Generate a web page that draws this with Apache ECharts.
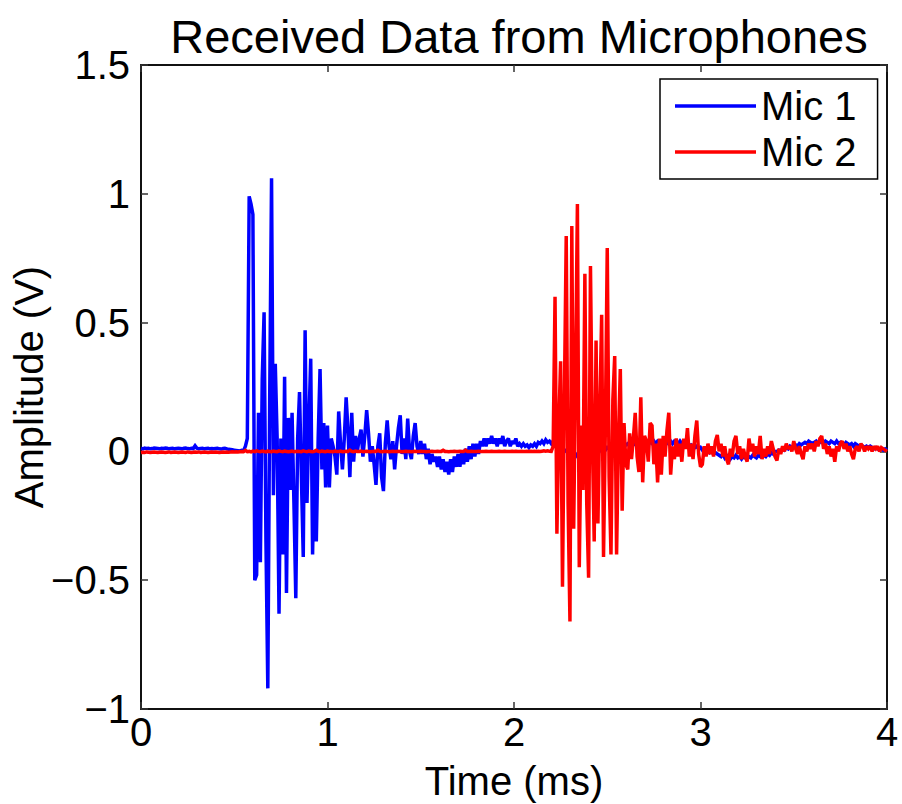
<!DOCTYPE html>
<html>
<head>
<meta charset="utf-8">
<title>Received Data from Microphones</title>
<script src="https://cdn.jsdelivr.net/npm/echarts@6/dist/echarts.min.js"></script>
<style>
  html, body { margin: 0; padding: 0; background: #fff; }
  #chart { width: 902px; height: 804px; }
</style>
</head>
<body>
<div id="chart"></div>
<script>
// Sampling interval of both microphone recordings, in milliseconds.
const SAMPLE_STEP_MS = 0.01;

const SERIES_NAMES = ['Mic 1', 'Mic 2'];
const X_TICKS = [0, 1, 2, 3, 4];
const Y_TICKS = [-1, -0.5, 0, 0.5, 1, 1.5];

// Mic 1 voltage, one value per sample (10 samples per row).
const MIC1_VOLTS = [
  0.012, 0.010, 0.013, 0.011, 0.012, 0.010, 0.011, 0.013, 0.012, 0.011,
  0.010, 0.012, 0.011, 0.013, 0.012, 0.010, 0.011, 0.012, 0.010, 0.011,
  0.012, 0.011, 0.010, 0.012, 0.013, 0.011, 0.010, 0.012, 0.011, 0.022,
  0.012, 0.010, 0.011, 0.012, 0.010, 0.011, 0.012, 0.010, 0.011, 0.010,
  0.011, 0.012, 0.010, 0.009, 0.011, 0.012, 0.010, 0.008, 0.007, 0.006,
  0.005, 0.004, 0.003, 0.002, 0.004, 0.003, 0.020, 0.050, 0.990, 0.960,
  0.920, -0.500, -0.480, 0.150, -0.430, 0.280, 0.540, -0.350, -0.920, 0.200,
  1.060, -0.170, 0.340, 0.050, -0.630, 0.050, -0.400, 0.290, -0.550, 0.130,
  -0.150, 0.150, -0.200, -0.570, 0.050, 0.230, -0.100, -0.410, 0.470, -0.200,
  0.100, 0.360, -0.400, 0.000, -0.350, 0.050, 0.320, -0.070, 0.110, -0.140,
  0.100, -0.140, 0.050, 0.020, -0.020, -0.090, 0.155, 0.030, -0.070, 0.050,
  0.210, 0.080, -0.100, 0.150, -0.040, 0.060, 0.000, 0.050, 0.085, -0.020,
  0.060, 0.160, 0.070, -0.040, 0.020, -0.050, -0.130, 0.020, 0.070, -0.100,
  -0.154, 0.030, 0.120, 0.020, -0.030, 0.040, -0.070, 0.020, 0.090, 0.140,
  -0.010, 0.050, -0.030, 0.127, 0.000, -0.030, 0.060, 0.110, 0.020, -0.010,
  0.040, -0.010, 0.030, -0.030, 0.010, -0.050, -0.010, -0.040, -0.020, -0.060,
  -0.020, -0.070, -0.030, -0.080, -0.040, -0.090, -0.030, -0.080, -0.020, -0.060,
  -0.010, -0.060, 0.000, -0.050, 0.010, -0.040, 0.020, -0.030, 0.030, -0.020,
  0.030, -0.010, 0.040, 0.020, 0.050, 0.020, 0.050, 0.030, 0.060, 0.030,
  0.050, 0.020, 0.050, 0.030, 0.060, 0.020, 0.040, 0.050, 0.020, 0.040,
  0.030, 0.050, 0.020, 0.030, 0.020, 0.030, 0.020, 0.025, 0.015, 0.025,
  0.020, 0.030, 0.020, 0.035, 0.030, 0.040, 0.030, 0.045, 0.035, 0.040,
  0.030, 0.040, 0.030, 0.025, 0.020, 0.010, 0.015, 0.000, 0.005, -0.010,
  0.000, -0.015, -0.005, -0.020, -0.010, -0.015, -0.020, -0.010, -0.015, -0.005,
  -0.010, -0.005, 0.000, -0.010, 0.005, 0.000, 0.010, 0.000, 0.010, 0.005,
  0.015, 0.010, 0.020, 0.010, 0.020, 0.015, 0.025, 0.020, 0.030, 0.020,
  0.025, 0.030, 0.020, 0.035, 0.025, 0.030, 0.040, 0.030, 0.035, 0.025,
  0.040, 0.030, 0.040, 0.035, 0.030, 0.040, 0.030, 0.040, 0.035, 0.040,
  0.030, 0.040, 0.030, 0.035, 0.040, 0.030, 0.040, 0.035, 0.030, 0.040,
  0.030, 0.035, 0.025, 0.030, 0.020, 0.025, 0.020, 0.015, 0.020, 0.010,
  0.015, 0.005, 0.010, 0.000, 0.005, -0.005, 0.000, -0.010, -0.005, -0.010,
  -0.015, -0.020, -0.010, -0.025, -0.015, -0.020, -0.030, -0.020, -0.025, -0.015,
  -0.025, -0.020, -0.030, -0.020, -0.025, -0.030, -0.020, -0.025, -0.015, -0.020,
  -0.025, -0.015, -0.020, -0.010, -0.015, -0.020, -0.010, -0.015, -0.005, -0.010,
  0.000, 0.000, 0.005, 0.000, 0.010, 0.005, 0.015, 0.010, 0.020, 0.015,
  0.020, 0.025, 0.020, 0.030, 0.025, 0.030, 0.035, 0.030, 0.040, 0.035,
  0.030, 0.035, 0.040, 0.030, 0.035, 0.040, 0.030, 0.040, 0.035, 0.030,
  0.040, 0.035, 0.030, 0.040, 0.030, 0.035, 0.030, 0.025, 0.035, 0.030,
  0.025, 0.030, 0.020, 0.030, 0.025, 0.020, 0.025, 0.020, 0.015, 0.020,
  0.015, 0.020, 0.015, 0.010, 0.015, 0.010, 0.005, 0.010, 0.005, 0.010,
  0.005
];

// Mic 2 voltage, one value per sample (10 samples per row).
const MIC2_VOLTS = [
  -0.004, -0.003, -0.004, -0.002, -0.003, -0.004, -0.003, -0.002, -0.003, -0.004,
  -0.003, -0.002, -0.003, -0.004, -0.003, -0.002, -0.004, -0.003, -0.002, -0.003,
  -0.004, -0.003, -0.002, -0.003, -0.004, -0.002, -0.003, -0.004, -0.003, -0.002,
  -0.003, -0.002, -0.004, -0.003, -0.002, -0.003, -0.004, -0.003, -0.002, -0.003,
  -0.002, -0.003, -0.004, -0.003, -0.002, -0.003, -0.002, -0.003, -0.002, -0.001,
  -0.002, -0.001, -0.002, -0.001, 0.000, -0.001, 0.004, -0.001, 0.000, -0.002,
  0.001, -0.001, 0.002, 0.000, -0.001, 0.001, 0.000, -0.002, 0.001, 0.000,
  -0.001, 0.001, 0.000, -0.001, 0.002, 0.000, -0.001, 0.001, 0.000, -0.001,
  0.000, 0.001, -0.001, 0.000, 0.001, 0.000, -0.001, 0.002, 0.000, -0.001,
  0.001, 0.000, -0.001, 0.000, 0.004, 0.000, -0.001, 0.001, 0.000, -0.001,
  0.001, 0.000, 0.000, -0.001, 0.001, 0.000, 0.000, 0.001, -0.001, 0.000,
  0.001, 0.000, 0.005, 0.000, -0.001, 0.001, 0.000, 0.000, 0.001, -0.001,
  0.000, 0.001, 0.000, -0.001, 0.000, 0.001, 0.000, 0.004, 0.000, -0.001,
  0.000, 0.001, 0.000, -0.001, 0.000, 0.001, 0.000, 0.000, 0.001, 0.000,
  -0.001, 0.000, 0.001, 0.000, 0.000, -0.001, 0.000, 0.001, 0.000, 0.000,
  0.001, 0.000, 0.000, -0.001, 0.000, 0.000, 0.001, 0.000, 0.000, 0.001,
  0.000, 0.000, 0.004, 0.000, 0.000, -0.001, 0.000, 0.000, 0.001, 0.000,
  0.000, 0.001, 0.000, 0.000, 0.005, 0.000, 0.000, 0.001, 0.000, 0.000,
  0.000, 0.001, 0.000, 0.000, 0.000, 0.001, 0.000, 0.000, 0.001, 0.000,
  0.000, 0.000, 0.001, 0.000, 0.000, 0.001, 0.000, 0.000, 0.000, 0.001,
  0.000, 0.001, 0.000, 0.000, 0.001, 0.000, 0.000, 0.001, 0.000, 0.001,
  0.000, 0.001, 0.000, 0.001, 0.000, 0.001, 0.002, 0.001, 0.002, 0.001,
  0.000, 0.020, 0.600, -0.320, 0.100, 0.350, -0.525, 0.200, 0.836, -0.200,
  -0.660, 0.875, -0.300, 0.300, 0.960, -0.450, 0.100, -0.150, 0.690, -0.200,
  -0.490, 0.720, 0.050, -0.350, 0.430, -0.280, 0.150, 0.530, -0.410, 0.100,
  0.790, -0.100, -0.400, 0.200, 0.370, -0.400, 0.050, 0.320, -0.230, 0.110,
  -0.050, -0.070, 0.070, -0.030, 0.050, 0.150, -0.020, -0.080, 0.210, -0.120,
  0.060, 0.040, -0.040, 0.110, 0.100, -0.050, 0.030, -0.120, 0.050, -0.090,
  0.060, -0.020, 0.080, 0.150, -0.090, 0.020, -0.030, 0.050, -0.020, 0.030,
  -0.040, 0.050, 0.010, 0.090, -0.020, 0.030, -0.030, 0.060, 0.120, -0.010,
  -0.060, -0.050, 0.020, -0.020, 0.030, -0.010, 0.020, -0.020, 0.040, 0.064,
  0.000, 0.030, -0.020, 0.020, -0.030, -0.050, 0.010, -0.020, 0.040, 0.060,
  -0.010, 0.020, -0.030, 0.010, -0.020, -0.040, 0.050, 0.000, 0.030, -0.020,
  0.020, -0.010, 0.060, -0.030, 0.010, -0.020, 0.020, -0.010, 0.040, 0.010,
  -0.020, -0.035, 0.010, -0.010, 0.020, 0.000, 0.030, 0.010, 0.020, 0.000,
  0.040, 0.010, -0.010, 0.020, -0.010, -0.030, 0.020, 0.000, 0.030, 0.010,
  0.030, 0.000, 0.040, 0.020, 0.050, 0.060, 0.010, 0.030, -0.010, 0.020,
  -0.020, 0.010, -0.040, 0.020, 0.000, 0.030, 0.040, 0.010, 0.030, 0.000,
  0.020, -0.010, -0.030, 0.010, 0.020, 0.000, 0.030, 0.020, 0.000, 0.020,
  0.010, 0.020, 0.000, 0.020, 0.010, 0.020, 0.000, 0.015, 0.010, 0.005,
  0.000
];

const FONT = "'Liberation Sans', Arial, Helvetica, sans-serif";

// Pair every voltage sample with its time stamp (ms).
function toPoints(volts) {
  return volts.map((v, i) => [i * SAMPLE_STEP_MS, v]);
}

function tickLabel(v) {
  return String(v).replace('-', '\u2212');
}

const chart = echarts.init(document.getElementById('chart'), null, { renderer: 'svg' });

const axisLine = { show: true, onZero: false, lineStyle: { color: '#111', width: 2 } };
const axisTickIn = { show: true, inside: true, length: 7, lineStyle: { color: '#333', width: 1.5 } };

chart.setOption({
  animation: false,
  backgroundColor: '#ffffff',
  title: {
    text: 'Received Data from Microphones',
    left: 514,
    top: 8,
    textAlign: 'center',
    textStyle: { fontFamily: FONT, fontSize: 47, fontWeight: 'normal', color: '#000' }
  },
  legend: {
    data: SERIES_NAMES,
    orient: 'vertical',
    left: 660,
    top: 79,
    icon: 'rect',
    itemWidth: 81,
    itemHeight: 3.5,
    itemGap: 6,
    itemTextGap: 11,
    padding: [7, 21, 7, 15],
    backgroundColor: '#ffffff',
    borderColor: '#000',
    borderWidth: 1.5,
    textStyle: { fontFamily: FONT, fontSize: 40, lineHeight: 40, color: '#000' }
  },
  grid: { left: 141, right: 15, top: 65, bottom: 95, containLabel: false, outerBoundsMode: 'none' },
  xAxis: [
    {
      type: 'value',
      min: X_TICKS[0],
      max: X_TICKS[X_TICKS.length - 1],
      interval: 1,
      name: 'Time (ms)',
      nameLocation: 'middle',
      nameGap: 52,
      nameMoveOverlap: false,
      nameTextStyle: { fontFamily: FONT, fontSize: 40, color: '#000' },
      axisLine: axisLine,
      axisTick: axisTickIn,
      splitLine: { show: false },
      axisLabel: {
        margin: 5,
        fontFamily: FONT,
        fontSize: 40,
        lineHeight: 36,
        color: '#000',
        formatter: tickLabel
      }
    },
    {
      type: 'value',
      position: 'top',
      min: X_TICKS[0],
      max: X_TICKS[X_TICKS.length - 1],
      interval: 1,
      axisLine: axisLine,
      axisTick: axisTickIn,
      axisLabel: { show: false },
      splitLine: { show: false }
    }
  ],
  yAxis: [
    {
      type: 'value',
      min: Y_TICKS[0],
      max: Y_TICKS[Y_TICKS.length - 1],
      interval: 0.5,
      name: 'Amplitude (V)',
      nameLocation: 'middle',
      nameGap: 92,
      nameMoveOverlap: false,
      nameTextStyle: { fontFamily: FONT, fontSize: 40, lineHeight: 40, color: '#000' },
      axisLine: axisLine,
      axisTick: axisTickIn,
      splitLine: { show: false },
      axisLabel: {
        margin: 11,
        fontFamily: FONT,
        fontSize: 40,
        lineHeight: 32,
        color: '#000',
        formatter: tickLabel
      }
    },
    {
      type: 'value',
      position: 'right',
      min: Y_TICKS[0],
      max: Y_TICKS[Y_TICKS.length - 1],
      interval: 0.5,
      axisLine: axisLine,
      axisTick: axisTickIn,
      axisLabel: { show: false },
      splitLine: { show: false }
    }
  ],
  series: [
    {
      name: SERIES_NAMES[0],
      type: 'line',
      xAxisIndex: 0,
      yAxisIndex: 0,
      data: toPoints(MIC1_VOLTS),
      showSymbol: false,
      symbol: 'none',
      color: '#0000ff',
      lineStyle: { color: '#0000ff', width: 3.5, join: 'miter', miterLimit: 2 },
      z: 2
    },
    {
      name: SERIES_NAMES[1],
      type: 'line',
      xAxisIndex: 0,
      yAxisIndex: 0,
      data: toPoints(MIC2_VOLTS),
      showSymbol: false,
      symbol: 'none',
      color: '#ff0000',
      lineStyle: { color: '#ff0000', width: 3.5, join: 'miter', miterLimit: 2 },
      z: 3
    }
  ]
});
</script>
</body>
</html>
